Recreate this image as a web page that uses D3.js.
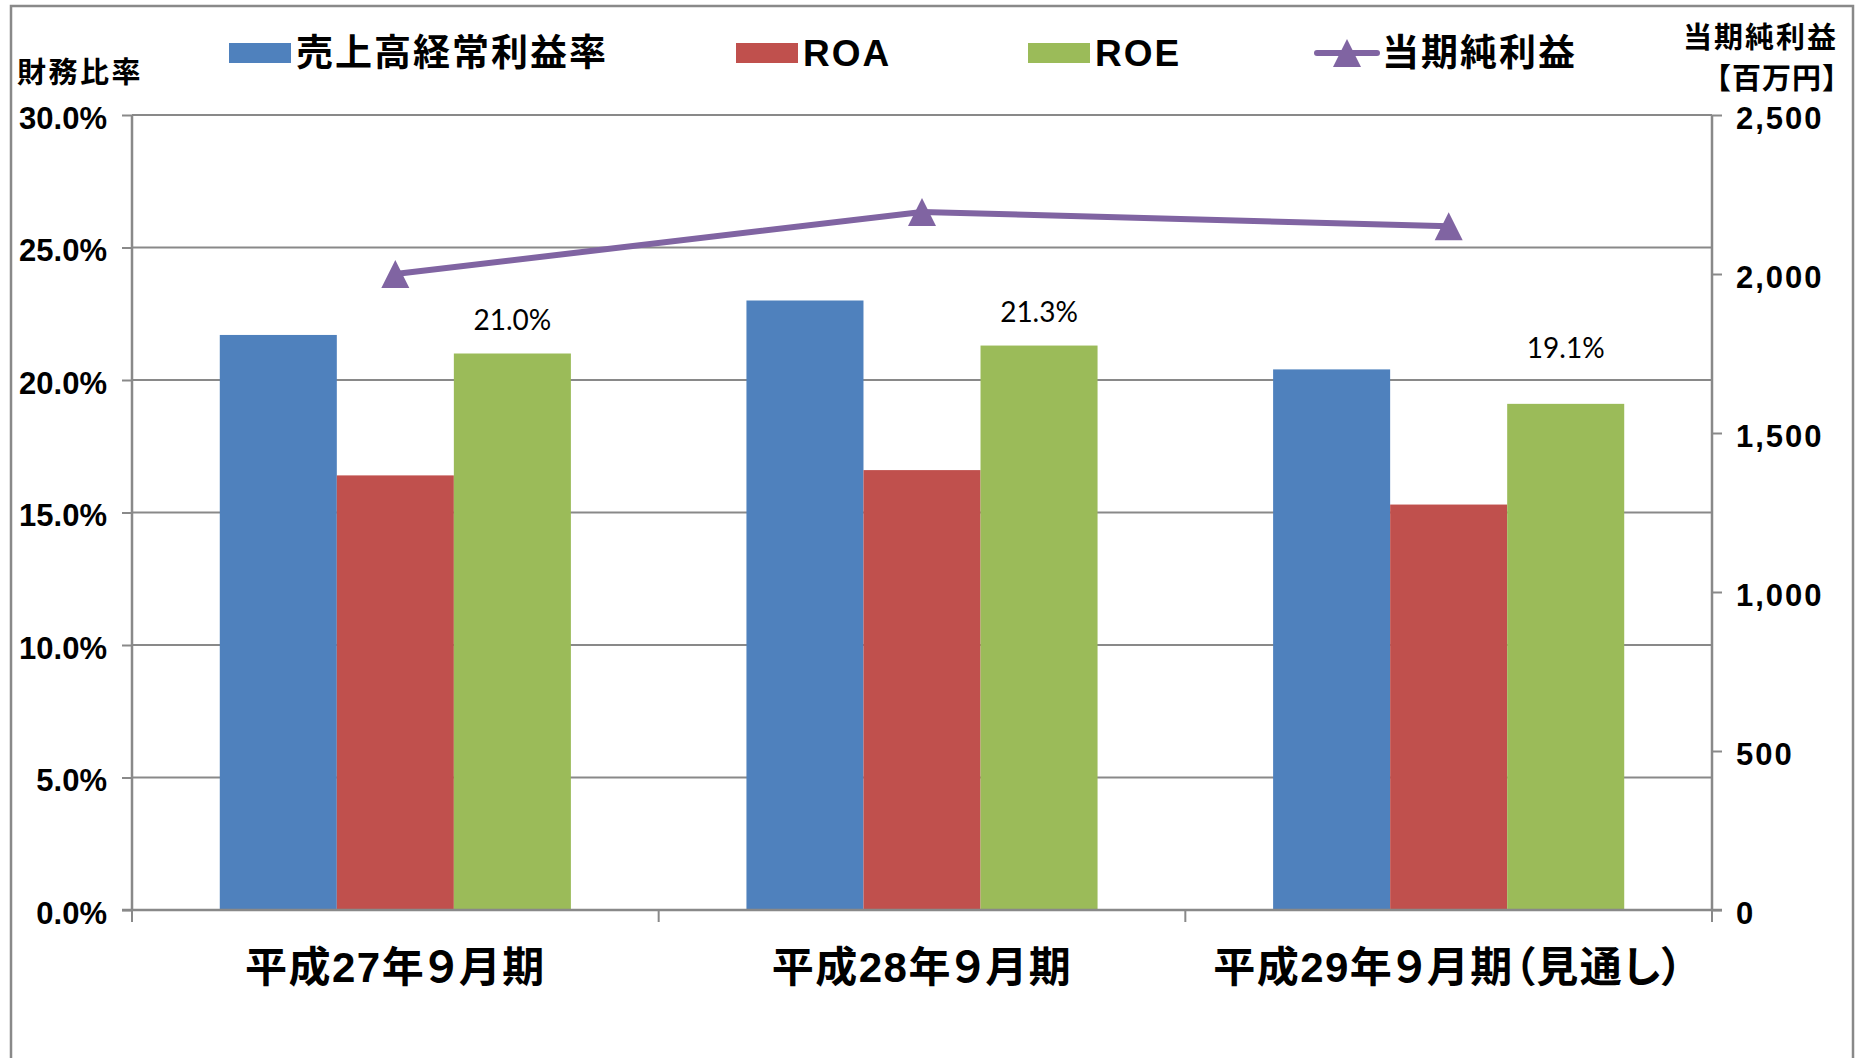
<!DOCTYPE html>
<html>
<head>
<meta charset="utf-8">
<script src="https://cdn.jsdelivr.net/npm/d3@7"></script>
<style>
  body { margin: 0; background: #fff; }
  svg { display: block; }
  .jp { font-family: "Liberation Sans", "Noto Sans CJK JP", sans-serif; font-feature-settings: "palt"; }
</style>
</head>
<body>
<svg id="chart"></svg>
<script>
// data
const categories = ["平成27年９月期", "平成28年９月期", "平成29年９月期（見通し）"];
const seriesNames = ["売上高経常利益率", "ROA", "ROE"];
const salesMargin = [21.7, 23.0, 20.4];
const roa = [16.4, 16.6, 15.3];
const roe = [21.0, 21.3, 19.1];
const lineName = "当期純利益";
const netIncome = [2000, 2195, 2150];
const leftTicks = [0, 5, 10, 15, 20, 25, 30];
const rightTicks = [0, 500, 1000, 1500, 2000, 2500];

const colors = ["#4F81BD", "#C0504D", "#9BBB59"];
const lineColor = "#8064A2";
const grey = "#898989";

const width = 1861;
const height = 1058;
const plot = { left: 132, right: 1712, top: 115, bottom: 910 };

const svg = d3.select("#chart").attr("width", width).attr("height", height);

// outer frame
svg.append("rect")
  .attr("x", 11).attr("y", 6)
  .attr("width", 1842).attr("height", 1100)
  .attr("fill", "none").attr("stroke", grey).attr("stroke-width", 2.5);

// scales
const x0 = d3.scaleBand().domain(categories).range([plot.left, plot.right]);
const x1 = d3.scaleBand().domain(seriesNames).range([0, x0.bandwidth()])
  .paddingInner(0).paddingOuter(0.75);
const yL = d3.scaleLinear().domain([0, 30]).range([plot.bottom, plot.top]);
const yR = d3.scaleLinear().domain([0, 2500]).range([plot.bottom, plot.top]);

// gridlines
svg.append("g")
  .selectAll("line")
  .data(leftTicks.filter((d) => d > 0))
  .join("line")
  .attr("x1", plot.left).attr("x2", plot.right)
  .attr("y1", (d) => yL(d)).attr("y2", (d) => yL(d))
  .attr("stroke", grey).attr("stroke-width", 2);

// bars
const rows = categories.map((c, i) => ({
  cat: c,
  vals: [salesMargin[i], roa[i], roe[i]]
}));

svg.append("g")
  .selectAll("g")
  .data(rows)
  .join("g")
  .attr("transform", (d) => `translate(${x0(d.cat)},0)`)
  .selectAll("rect")
  .data((d) => d.vals.map((v, j) => ({ name: seriesNames[j], v: v, j: j })))
  .join("rect")
  .attr("x", (d) => x1(d.name))
  .attr("y", (d) => yL(d.v))
  .attr("width", x1.bandwidth())
  .attr("height", (d) => yL(0) - yL(d.v))
  .attr("fill", (d) => colors[d.j]);

// ROE value labels (hand placed in the original, so lifts differ)
const labelLift = [24, 24, 46];
svg.append("g")
  .selectAll("text")
  .data(roe)
  .join("text")
  .attr("x", (d, i) => x0(categories[i]) + x1("ROE") + x1.bandwidth() / 2)
  .attr("y", (d, i) => yL(d) - labelLift[i])
  .attr("text-anchor", "middle")
  .attr("font-family", "Lato, 'Open Sans', sans-serif")
  .attr("font-size", 28)
  .attr("fill", "#000")
  .text((d) => d.toFixed(1) + "%");

// left axis
const leftAxis = svg.append("g")
  .attr("transform", `translate(${plot.left},0)`)
  .call(d3.axisLeft(yL).tickValues(leftTicks).tickSize(10).tickPadding(15)
    .tickFormat((d) => d.toFixed(1) + "%"));

// right axis
const rightAxis = svg.append("g")
  .attr("transform", `translate(${plot.right},0)`)
  .call(d3.axisRight(yR).tickValues(rightTicks).tickSize(10).tickPadding(14)
    .tickFormat(d3.format(",")));

[leftAxis, rightAxis].forEach((ax) => {
  ax.select(".domain").attr("stroke", grey).attr("stroke-width", 2.5)
    .attr("d", `M0,${plot.top}V${plot.bottom}`);
  ax.selectAll(".tick line").attr("stroke", grey).attr("stroke-width", 2);
  ax.selectAll(".tick text")
    .attr("font-family", "'Liberation Sans', Arial, sans-serif")
    .attr("font-size", 31)
    .attr("font-weight", "bold")
    .attr("dy", "0.42em")
    .attr("fill", "#000");
});
rightAxis.selectAll(".tick text").attr("letter-spacing", 2);

// bottom axis: line + ticks on band edges + labels centred
const bottom = svg.append("g");
bottom.append("line")
  .attr("x1", plot.left - 10).attr("x2", plot.right + 10)
  .attr("y1", plot.bottom).attr("y2", plot.bottom)
  .attr("stroke", grey).attr("stroke-width", 2.5);

const edges = categories.map((c) => x0(c)).concat([x0(categories[categories.length - 1]) + x0.bandwidth()]);
bottom.selectAll(".edge")
  .data(edges)
  .join("line")
  .attr("class", "edge")
  .attr("x1", (d) => d).attr("x2", (d) => d)
  .attr("y1", plot.bottom).attr("y2", plot.bottom + 12)
  .attr("stroke", grey).attr("stroke-width", 2);

bottom.selectAll(".cat")
  .data(categories)
  .join("text")
  .attr("class", "cat jp")
  .attr("x", (d) => x0(d) + x0.bandwidth() / 2)
  .attr("y", 982)
  .attr("text-anchor", "middle")
  .attr("font-size", 42)
  .attr("font-weight", "bold")
  .attr("letter-spacing", 1.5)
  .attr("fill", "#000")
  .text((d) => d);

// net income line
const line = d3.line()
  .x((d, i) => x0(categories[i]) + x0.bandwidth() / 2)
  .y((d) => yR(d));

svg.append("path")
  .datum(netIncome)
  .attr("d", line)
  .attr("fill", "none")
  .attr("stroke", lineColor)
  .attr("stroke-width", 6)
  .attr("stroke-linejoin", "round");

const tri = "M0,-14L14,14L-14,14Z";
svg.append("g")
  .selectAll("path")
  .data(netIncome)
  .join("path")
  .attr("transform", (d, i) => `translate(${x0(categories[i]) + x0.bandwidth() / 2},${yR(d)})`)
  .attr("d", tri)
  .attr("fill", lineColor);

// axis titles
svg.append("text")
  .attr("class", "jp")
  .attr("x", 17).attr("y", 83)
  .attr("font-size", 29).attr("font-weight", "bold")
  .attr("letter-spacing", 2.5)
  .text("財務比率");

svg.append("text")
  .attr("class", "jp")
  .attr("x", 1838).attr("y", 48)
  .attr("text-anchor", "end")
  .attr("font-size", 29).attr("font-weight", "bold")
  .attr("letter-spacing", 2)
  .text("当期純利益");

svg.append("text")
  .attr("x", 1852).attr("y", 89)
  .attr("text-anchor", "end")
  .attr("font-family", "'Noto Sans CJK JP', sans-serif")
  .attr("font-size", 29).attr("font-weight", "bold")
  .attr("letter-spacing", 1)
  .text("【百万円】");

// legend
const legendItems = seriesNames.map((n, i) => ({ name: n, color: colors[i], type: "bar" }))
  .concat([{ name: lineName, color: lineColor, type: "line" }]);
const legendX = [229, 736, 1028, 1315];

const leg = svg.append("g")
  .selectAll("g")
  .data(legendItems)
  .join("g")
  .attr("transform", (d, i) => `translate(${legendX[i]},53)`);

leg.filter((d) => d.type === "bar")
  .append("rect")
  .attr("x", 0).attr("y", -10)
  .attr("width", 62).attr("height", 20)
  .attr("fill", (d) => d.color);

const lineLeg = leg.filter((d) => d.type === "line");
lineLeg.append("line")
  .attr("x1", 2).attr("x2", 62).attr("y1", 0).attr("y2", 0)
  .attr("stroke", lineColor).attr("stroke-width", 6).attr("stroke-linecap", "round");
lineLeg.append("path")
  .attr("transform", "translate(32,0)")
  .attr("d", tri)
  .attr("fill", lineColor);

leg.append("text")
  .attr("class", "jp")
  .attr("x", 67).attr("y", 13)
  .attr("font-size", 37)
  .attr("font-weight", "bold")
  .attr("letter-spacing", 2)
  .attr("fill", "#000")
  .text((d) => d.name);
</script>
</body>
</html>
